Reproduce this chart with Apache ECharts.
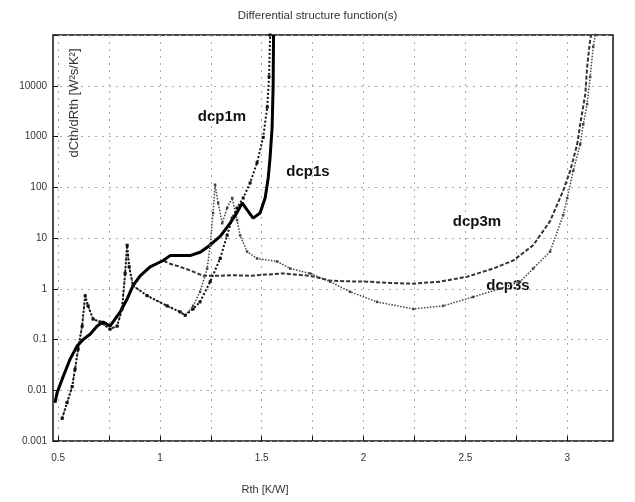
<!DOCTYPE html>
<html>
<head>
<meta charset="utf-8">
<script src="https://cdn.jsdelivr.net/npm/echarts@6/dist/echarts.min.js"></script>
<style>
  html, body { margin: 0; padding: 0; background: #fff; }
  #chart { width: 635px; height: 502px; }
</style>
</head>
<body>
<div id="chart"></div>
<script>
// tick labels
const xTicks = [0.5, 1, 1.5, 2, 2.5, 3];
const xMinorTicks = [0.5, 0.75, 1, 1.25, 1.5, 1.75, 2, 2.25, 2.5, 2.75, 3];
const yTicks = [0.001, 0.01, 0.1, 1, 10, 100, 1000, 10000];

// [Rth, dCth/dRth]
const dcp1m = [
  [0.485, 0.0057], [0.495, 0.0089], [0.525, 0.0187], [0.559, 0.041], [0.593, 0.074],
  [0.623, 0.1], [0.657, 0.127], [0.692, 0.184], [0.721, 0.221], [0.755, 0.184],
  [0.805, 0.35], [0.839, 0.63], [0.868, 1.15], [0.903, 1.8], [0.952, 2.7],
  [1.016, 3.6], [1.05, 4.5], [1.1, 4.5], [1.148, 4.5], [1.2, 5.3], [1.237, 6.8],
  [1.296, 10.8], [1.345, 19.6], [1.379, 32], [1.404, 49], [1.428, 36], [1.458, 24.6],
  [1.492, 31], [1.517, 62], [1.532, 154], [1.541, 384], [1.551, 1520], [1.556, 9500],
  [1.558, 100000]
];
const dcp1s = [
  [0.52, 0.0028], [0.544, 0.0057], [0.569, 0.0118], [0.583, 0.0256], [0.598, 0.064],
  [0.618, 0.184], [0.633, 0.73], [0.647, 0.46], [0.672, 0.253], [0.706, 0.221],
  [0.755, 0.16], [0.79, 0.184], [0.814, 0.4], [0.829, 2.0], [0.839, 7.2], [0.849, 2.7],
  [0.868, 1.15], [0.937, 0.73], [1.035, 0.46], [1.099, 0.35], [1.124, 0.3],
  [1.163, 0.4], [1.197, 0.55], [1.247, 1.38], [1.296, 3.95], [1.33, 11.3], [1.355, 24.6],
  [1.379, 39], [1.409, 61.5], [1.443, 122], [1.477, 305], [1.507, 960], [1.527, 3790],
  [1.536, 15000], [1.541, 100000]
];
const dcp3m = [
  [0.485, 0.0057], [0.495, 0.0089], [0.525, 0.0187], [0.559, 0.041], [0.593, 0.074],
  [0.623, 0.1], [0.657, 0.127], [0.692, 0.184], [0.721, 0.221], [0.755, 0.184],
  [0.805, 0.35], [0.839, 0.63], [0.868, 1.15], [0.903, 1.8], [0.952, 2.7],
  [1.016, 3.6], [1.05, 3.1], [1.1, 2.7], [1.148, 2.3], [1.212, 1.8], [1.281, 1.8],
  [1.36, 1.85], [1.443, 1.8], [1.52, 1.9], [1.605, 2.0], [1.738, 1.8], [1.836, 1.45],
  [1.93, 1.4], [2.018, 1.38], [2.13, 1.3], [2.244, 1.26], [2.376, 1.38], [2.509, 1.73],
  [2.637, 2.5], [2.735, 3.6], [2.833, 7.2], [2.916, 21.5], [2.98, 85], [3.015, 212],
  [3.049, 700], [3.064, 1740], [3.089, 6900], [3.098, 23600], [3.113, 81000], [3.118, 100000]
];
const dcp3s = [
  [0.52, 0.0028], [0.544, 0.0057], [0.569, 0.0118], [0.583, 0.0256], [0.598, 0.064],
  [0.618, 0.184], [0.633, 0.73], [0.647, 0.46], [0.672, 0.253], [0.706, 0.221],
  [0.755, 0.16], [0.79, 0.184], [0.814, 0.4], [0.829, 2.0], [0.839, 7.2], [0.849, 2.7],
  [0.868, 1.15], [0.937, 0.73], [1.035, 0.46], [1.099, 0.35], [1.124, 0.3],
  [1.163, 0.46], [1.197, 0.87], [1.232, 2.5], [1.247, 7.2], [1.261, 31], [1.271, 112],
  [1.286, 49], [1.306, 19.6], [1.33, 39], [1.355, 61.5], [1.379, 22.5], [1.394, 11.3],
  [1.428, 5.4], [1.477, 3.95], [1.576, 3.44], [1.64, 2.5], [1.738, 2.0], [1.836, 1.38],
  [1.934, 0.87], [2.067, 0.55], [2.244, 0.4], [2.391, 0.46], [2.538, 0.69], [2.671, 1.0],
  [2.769, 1.38], [2.833, 2.5], [2.916, 5.4], [2.98, 28], [3.0, 61], [3.03, 212],
  [3.064, 700], [3.079, 1740], [3.098, 4350], [3.113, 15000], [3.128, 59000], [3.138, 100000]
];

const font = "Liberation Sans";
const textColor = "#333";

const chart = echarts.init(document.getElementById("chart"), null, { renderer: "canvas" });

const options = {
  animation: false,
  backgroundColor: "#fff",
  textStyle: { fontFamily: font },
  title: {
    text: "Differential structure function(s)",
    left: "center",
    top: 5,
    textStyle: { fontSize: 11.5, fontWeight: "normal", color: textColor, fontFamily: font },
  },
  grid: {
    left: 53,
    right: 22,
    top: 35,
    bottom: 61,
    show: true,
    borderColor: "#111",
    borderWidth: 1.5,
  },
  xAxis: {
    type: "value",
    min: 0.475,
    max: 3.225,
    axisLine: { show: false },
    axisTick: { inside: true, length: 5, customValues: xMinorTicks, lineStyle: { color: "#111" } },
    axisLabel: {
      customValues: xTicks,
      margin: 12,
      fontSize: 10,
      color: textColor,
      fontFamily: font,
    },
    splitLine: { show: true, lineStyle: { color: "#aaa", type: [2, 5], width: 1 } },
  },
  yAxis: {
    type: "log",
    logBase: 10,
    min: 0.001,
    max: 100000,
    axisLine: { show: false },
    axisTick: { inside: true, length: 5, lineStyle: { color: "#111" } },
    axisLabel: {
      fontSize: 10,
      color: textColor,
      fontFamily: font,
      margin: 6,
      formatter: (v) => (yTicks.some((t) => Math.abs(t - v) / t < 1e-6) ? String(+v.toPrecision(3)) : ""),
    },
    splitLine: { show: true, lineStyle: { color: "#aaa", type: [2, 5], width: 1 } },
  },
  series: [
    {
      name: "dcp3s",
      type: "line",
      data: dcp3s,
      showSymbol: true,
      symbol: "rect",
      symbolSize: 2.5,
      itemStyle: { color: "#444" },
      lineStyle: { color: "#444", width: 1.5, type: "dotted" },
    },
    {
      name: "dcp3m",
      type: "line",
      data: dcp3m,
      showSymbol: false,
      lineStyle: { color: "#333", width: 2, type: [4, 2] },
    },
    {
      name: "dcp1s",
      type: "line",
      data: dcp1s,
      showSymbol: true,
      symbol: "rect",
      symbolSize: 3,
      itemStyle: { color: "#111" },
      lineStyle: { color: "#111", width: 2, type: "dotted" },
    },
    {
      name: "dcp1m",
      type: "line",
      data: dcp1m,
      showSymbol: false,
      lineStyle: { color: "#000", width: 3 },
    },
  ],
  graphic: [
    {
      type: "text",
      x: 74,
      y: 103,
      rotation: Math.PI / 2,
      style: {
        text: "dCth/dRth [W²s/K²]",
        fontSize: 13,
        fontFamily: font,
        fill: textColor,
        align: "center",
        verticalAlign: "middle",
      },
    },
    {
      type: "text",
      x: 265,
      y: 490,
      style: { text: "Rth [K/W]", fontSize: 11, fontFamily: font, fill: textColor, align: "center", verticalAlign: "middle" },
    },
    { type: "text", x: 222, y: 117, style: { text: "dcp1m", fontSize: 15, fontWeight: "bold", fontFamily: font, fill: "#111", align: "center", verticalAlign: "middle" } },
    { type: "text", x: 308, y: 172, style: { text: "dcp1s", fontSize: 15, fontWeight: "bold", fontFamily: font, fill: "#111", align: "center", verticalAlign: "middle" } },
    { type: "text", x: 477, y: 222, style: { text: "dcp3m", fontSize: 15, fontWeight: "bold", fontFamily: font, fill: "#111", align: "center", verticalAlign: "middle" } },
    { type: "text", x: 508, y: 286, style: { text: "dcp3s", fontSize: 15, fontWeight: "bold", fontFamily: font, fill: "#111", align: "center", verticalAlign: "middle" } },
  ],
};

chart.setOption(options);
</script>
</body>
</html>
